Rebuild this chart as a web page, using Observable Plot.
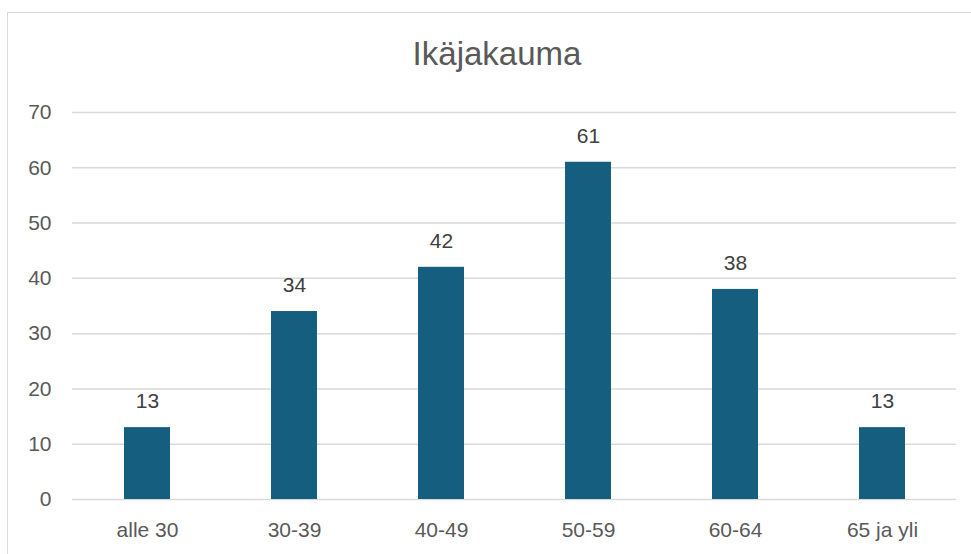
<!DOCTYPE html>
<html>
<head>
<meta charset="utf-8">
<script src="https://cdn.jsdelivr.net/npm/d3@7"></script>
<script src="https://cdn.jsdelivr.net/npm/@observablehq/plot@0.6"></script>
<style>
  html, body { margin: 0; padding: 0; background: #fff; overflow: hidden; width: 971px; height: 554px; }
  #frame { position: absolute; left: 7px; top: 12px; width: 1000px; height: 600px;
           border-top: 1.5px solid #d9d9d9; border-left: 1.5px solid #d9d9d9; }
  #title { position: absolute; left: 0; width: 994px; top: 34px; text-align: center;
           font-family: "Liberation Sans", Arial, sans-serif; font-size: 33px; color: #595959; line-height: 40px; }
  #chart { position: absolute; left: 0; top: 0; }
</style>
</head>
<body>
<div id="frame"></div>
<div id="title">Ikäjakauma</div>
<div id="chart"></div>
<script>
const categories = ["alle 30", "30-39", "40-49", "50-59", "60-64", "65 ja yli"];
const values = [13, 34, 42, 61, 38, 13];
const yTicks = [0, 10, 20, 30, 40, 50, 60, 70];

const data = categories.map((c, i) => ({category: c, value: values[i]}));

const chart = Plot.plot({
  width: 971,
  height: 554,
  marginLeft: 72,
  marginRight: 15,
  marginTop: 112,
  marginBottom: 55,
  style: {fontFamily: "'Liberation Sans', Arial, sans-serif", background: "transparent", color: "#595959"},
  x: {domain: categories, paddingInner: 0.69, paddingOuter: 0.345, label: null},
  y: {domain: [0, 70], label: null},
  marks: [
    Plot.ruleY(yTicks, {stroke: "#d9d9d9", strokeWidth: 1.5}),
    Plot.barY(data, {x: "category", y: "value", fill: "#165e80"}),
    Plot.text(data, {x: "category", y: "value", text: d => String(d.value), dy: -26, fontSize: 21, fill: "#404040"}),
    Plot.axisY({ticks: yTicks, tickSize: 0, tickPadding: 21, fontSize: 21, fill: "#595959", label: null}),
    Plot.axisX({tickSize: 0, tickPadding: 23, fontSize: 21, fill: "#595959", label: null})
  ]
});
document.getElementById("chart").appendChild(chart);
</script>
</body>
</html>
